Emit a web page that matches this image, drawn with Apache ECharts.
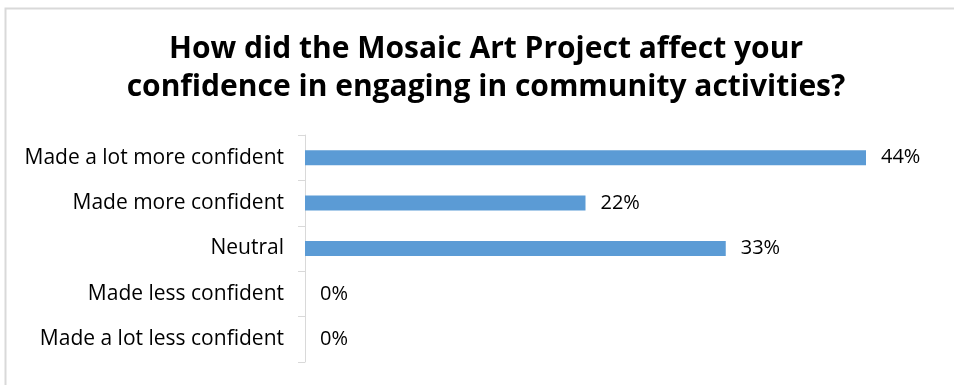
<!DOCTYPE html>
<html>
<head>
<meta charset="utf-8">
<script src="https://cdn.jsdelivr.net/npm/echarts@6/dist/echarts.min.js"></script>
<style>
  html, body { margin: 0; padding: 0; background: #fff; }
  #chart { width: 954px; height: 385px; }
</style>
</head>
<body>
<div id="chart"></div>
<script>
// Survey responses, top to bottom
const categories = [
  'Made a lot more confident',
  'Made more confident',
  'Neutral',
  'Made less confident',
  'Made a lot less confident'
];
const percentages = [44, 22, 33, 0, 0];
const titleLines = [
  'How did the Mosaic Art Project affect your',
  'confidence in engaging in community activities?'
];

const FONT = '"Open Sans", Lato, sans-serif';
const chart = echarts.init(document.getElementById('chart'), null, { renderer: 'canvas' });

chart.setOption({
  animation: false,
  backgroundColor: '#ffffff',
  graphic: [{
    // chart-area frame; it runs off the right and bottom edges
    type: 'rect',
    shape: { x: 5.5, y: 8.5, width: 970, height: 400 },
    style: { fill: 'none', stroke: '#d9d9d9', lineWidth: 2 },
    silent: true,
    z: -1
  }],
  title: {
    text: titleLines.join('\n'),
    left: 481,
    top: 25,
    textAlign: 'center',
    textStyle: {
      fontFamily: FONT,
      fontWeight: 'bold',
      fontSize: 30,
      lineHeight: 38,
      color: '#000000'
    }
  },
  grid: { left: 305, right: 11.5, top: 135, bottom: 23 },
  xAxis: {
    type: 'value',
    min: 0,
    max: 50,
    show: false
  },
  yAxis: {
    type: 'category',
    data: categories,
    inverse: true,
    axisLine: { show: true, lineStyle: { color: '#d9d9d9', width: 1 } },
    axisTick: { show: true, length: 7, lineStyle: { color: '#d9d9d9' } },
    axisLabel: {
      margin: 21,
      fontFamily: FONT,
      fontSize: 21,
      color: '#000000'
    },
    splitLine: { show: false }
  },
  series: [{
    type: 'bar',
    data: percentages,
    barWidth: 15,
    itemStyle: { color: '#5b9bd5' },
    label: {
      show: true,
      position: 'right',
      distance: 15,
      formatter: p => p.value + '%',
      fontFamily: FONT,
      fontSize: 20,
      color: '#000000'
    }
  }]
});
</script>
</body>
</html>
